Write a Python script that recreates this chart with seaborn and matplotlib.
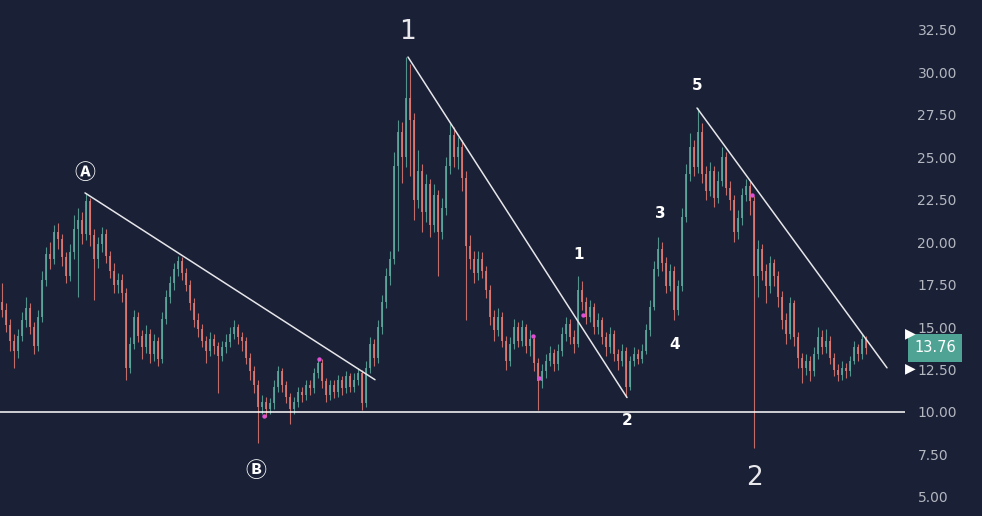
import numpy as np
import pandas as pd
import seaborn as sns
import matplotlib.pyplot as plt

# velas (una por cada ~4 px del gráfico original)
closes = [
    16.0, 15.1, 14.2, 13.6, 14.5, 15.4, 16.1, 15.0, 13.9, 15.6,
    17.8, 19.3, 19.0, 20.6, 20.2, 19.1, 18.0, 19.4, 20.8, 21.3,
    20.5, 22.4, 20.4, 19.0, 19.9, 20.5, 19.2, 18.3, 17.5, 17.8,
    17.0, 12.6, 14.0, 15.6, 14.5, 13.8, 14.6, 13.4, 14.2, 13.1,
    15.5, 16.8, 17.6, 18.4, 18.9, 18.2, 17.5, 16.4, 15.4, 14.9,
    14.2, 13.6, 14.3, 13.9, 13.3, 13.8, 14.1, 14.6, 15.0, 14.4,
    14.2, 13.2, 12.4, 11.6, 10.3, 10.6, 10.2, 10.5, 11.5, 12.4,
    11.6, 10.9, 10.2, 10.6, 11.2, 11.0, 11.6, 11.4, 12.3, 12.9,
    11.8, 11.0, 11.6, 11.2, 11.9, 11.4, 12.1, 11.5, 11.9, 12.3,
    10.5, 12.6, 14.0, 13.2, 15.0, 16.5, 18.0, 19.0, 24.5, 26.5,
    25.0, 28.5, 27.2, 22.5, 24.2, 21.8, 23.4, 21.0, 22.8, 20.6,
    22.0, 24.5, 26.3, 25.0, 25.6, 23.8, 19.8, 19.0, 18.2, 19.0,
    18.3, 17.2, 15.6, 14.8, 15.6, 14.2, 13.0, 14.0, 15.0, 14.2,
    15.0, 13.9, 14.3, 12.9, 11.8, 12.4, 13.0, 13.5, 12.8, 13.6,
    14.6, 15.2, 14.4, 14.0, 17.2, 16.5, 15.6, 16.2, 15.0, 15.4,
    14.4, 13.8, 14.6, 13.4, 13.0, 13.6, 11.5, 13.0, 13.4, 13.1,
    13.6, 14.8, 16.2, 18.4, 19.6, 18.8, 17.4, 18.3, 16.0, 17.4,
    21.5, 24.0, 25.6, 24.4, 26.5, 24.0, 23.0, 24.2, 22.6, 23.6,
    25.0, 23.2, 22.5, 20.6, 21.4, 22.8, 23.3, 22.4, 18.0, 19.6,
    18.3, 17.4, 18.8, 18.0, 16.8, 15.4, 14.6, 16.4, 14.4, 13.2,
    12.6, 13.0, 12.4, 13.4, 14.4, 13.8, 14.2, 13.2, 12.5, 12.2,
    12.6, 12.4, 13.0, 13.8, 13.4, 14.3, 13.76,
]
highs = [
    17.6, 16.4, 15.5, 14.6, 14.9, 15.9, 16.8, 16.4, 15.3, 16.0,
    18.3, 19.7, 20.0, 21.0, 21.1, 20.5, 19.4, 19.9, 21.6, 22.0,
    21.8, 22.9, 22.6, 20.8, 20.3, 20.9, 20.8, 19.5, 18.8, 18.2,
    18.1, 17.3, 14.4, 16.0, 15.9, 14.8, 15.1, 14.9, 14.6, 14.4,
    15.9, 17.2, 18.0, 18.8, 19.2, 19.1, 18.5, 17.8, 16.7, 15.8,
    15.2, 14.5, 14.7, 14.6, 14.1, 14.2, 14.6, 15.0, 15.4, 15.2,
    14.7, 14.4, 13.5, 12.7, 11.9, 11.0, 10.9, 10.8, 11.9, 12.7,
    12.6, 11.8, 11.1, 10.9, 11.5, 11.5, 11.9, 11.9, 12.6, 13.2,
    13.1, 12.0, 11.9, 11.9, 12.2, 12.1, 12.4, 12.3, 12.3, 12.6,
    12.5, 13.0, 14.4, 14.3, 15.4, 16.9, 18.5, 19.5, 25.3, 27.2,
    27.1, 30.9, 30.5, 27.6, 25.4, 24.6, 24.0, 23.7, 23.4, 23.1,
    22.6, 25.0, 27.1, 26.8, 26.2, 26.0, 24.2, 20.4, 19.5, 19.5,
    19.4, 18.6, 17.5, 16.0, 16.1, 15.9, 14.5, 14.4, 15.5, 15.3,
    15.4, 15.2, 14.8, 14.5, 13.2, 12.8, 13.4, 13.9, 13.7, 14.0,
    15.0, 15.6, 15.5, 14.8, 18.0, 17.7, 16.8, 16.6, 16.4, 15.8,
    15.6, 14.7, 15.0, 14.8, 13.7, 14.0, 13.8, 13.3, 13.8, 13.7,
    14.0, 15.2, 16.6, 18.9, 20.3, 20.0, 19.1, 18.7, 18.6, 17.8,
    22.0, 24.6, 26.4, 26.0, 27.9, 27.0, 24.5, 24.7, 24.5, 24.2,
    25.6, 25.3, 23.6, 22.8, 21.9, 23.2, 23.7, 23.6, 22.7, 20.1,
    19.9, 18.7, 19.2, 19.0, 18.3, 17.1, 15.8, 16.8, 16.6, 14.7,
    13.5, 13.4, 13.3, 13.8, 15.0, 14.8, 14.9, 14.5, 13.5, 12.8,
    13.0, 12.9, 13.3, 14.2, 14.0, 14.6, 14.5,
]
lows = [
    15.6, 14.7, 13.6, 12.6, 13.2, 14.2, 15.0, 14.6, 13.4, 13.6,
    15.3, 17.4, 18.4, 18.7, 19.6, 18.6, 17.6, 17.7, 19.0, 16.8,
    19.9, 20.1, 19.8, 16.6, 18.5, 19.4, 18.8, 17.9, 17.0, 17.0,
    16.5, 11.9, 12.3, 13.7, 14.1, 13.1, 13.5, 12.9, 13.0, 12.7,
    12.9, 15.2, 16.4, 17.2, 18.0, 17.8, 17.1, 16.0, 15.0, 14.4,
    13.8, 12.9, 13.3, 13.4, 11.1, 13.0, 13.5, 13.8, 14.3, 14.0,
    13.6, 12.8, 11.9, 11.1, 8.2, 9.9, 9.7, 9.9, 10.2, 11.2,
    11.2, 10.5, 9.3, 9.9, 10.3, 10.6, 10.7, 11.0, 11.1, 12.0,
    11.4, 10.6, 10.7, 10.8, 10.9, 11.0, 11.1, 11.2, 11.2, 11.6,
    10.1, 10.3, 12.3, 12.7, 12.9, 14.6, 16.1, 17.5, 18.7, 19.5,
    23.5, 24.4, 23.9, 21.3, 22.0, 20.6, 21.2, 20.3, 20.6, 18.0,
    20.2, 21.6, 24.0, 24.4, 24.3, 23.0, 15.4, 18.4, 17.6, 17.8,
    17.9, 16.7, 15.1, 14.2, 14.5, 13.8, 12.5, 12.7, 13.7, 13.8,
    13.9, 13.5, 13.3, 12.4, 10.1, 11.4, 12.0, 12.7, 12.4, 12.5,
    13.3, 14.2, 14.0, 13.5, 13.8, 16.0, 15.2, 15.3, 14.6, 14.6,
    14.0, 13.3, 13.5, 13.0, 12.5, 12.7, 10.9, 11.3, 12.7, 12.8,
    12.9, 13.4, 14.5, 16.0, 18.0, 18.3, 17.0, 17.1, 15.4, 15.7,
    17.1, 21.2, 23.6, 23.9, 24.1, 23.5, 22.5, 22.7, 22.1, 22.3,
    23.3, 22.8, 21.9, 20.0, 20.2, 21.0, 22.4, 21.6, 7.9, 16.8,
    17.8, 16.4, 17.0, 17.4, 16.2, 14.9, 14.0, 14.3, 13.9, 12.6,
    11.7, 12.2, 11.8, 12.1, 13.1, 13.4, 13.5, 12.8, 12.1, 11.8,
    11.9, 12.0, 12.1, 12.8, 13.0, 13.1, 13.4,
]
first_open = 16.5
last_price = "13.76"

# lineas de tendencia (indice de vela, precio)
trend_a_x, trend_a_y = [20.75, 93.25], [22.9, 11.9]
trend_1_x, trend_1_y = [101.5, 156.25], [30.9, 10.85]
trend_5_x, trend_5_y = [173.75, 221.25], [27.9, 12.6]
support = 10.0

# puntos magenta
dots_x = [65.5, 79.25, 132.75, 134.25, 145.25, 187.5]
dots_y = [9.76, 13.1, 14.5, 12.0, 15.7, 22.8]

# etiquetas de ondas
big_labels = [("1", 101.25, 32.4), ("2", 188.0, 6.1)]
small_labels = [("1", 144.25, 19.3), ("2", 156.25, 9.47), ("3", 164.5, 21.66),
                ("4", 168.25, 13.95), ("5", 173.75, 29.2)]
circle_labels = [("Ⓐ", 20.75, 24.1), ("Ⓑ", 63.5, 6.55)]

df = pd.DataFrame({"close": closes, "high": highs, "low": lows})
df["open"] = df["close"].shift(1).fillna(first_open)
df["idx"] = np.arange(len(df))
df["up"] = df["close"] >= df["open"]

BG = "#1a2036"
UP = "#5fa79c"
DOWN = "#df7a72"

sns.set_style("dark", {"axes.facecolor": BG, "figure.facecolor": BG})
fig = plt.figure(figsize=(9.82, 5.16), dpi=100)
ax = fig.add_axes([0, 0, 905 / 982, 1])

colors = np.where(df["up"], UP, DOWN)
ax.vlines(df["idx"], df["low"], df["high"], colors=colors, linewidth=0.8, alpha=0.85)
body_lo = df[["open", "close"]].min(axis=1)
body_h = (df["close"] - df["open"]).abs().clip(lower=0.08)
ax.bar(df["idx"], body_h, bottom=body_lo, width=0.6, color=colors, alpha=0.85, linewidth=0)

ax.axhline(support, color="white", linewidth=1.1)
for tx, ty in [(trend_a_x, trend_a_y), (trend_1_x, trend_1_y), (trend_5_x, trend_5_y)]:
    sns.lineplot(x=tx, y=ty, ax=ax, color="#e6e6ea", linewidth=1.1)
sns.scatterplot(x=dots_x, y=dots_y, ax=ax, color="#e04fd6", s=10, linewidth=0, zorder=5)

for t, x, y in big_labels:
    ax.text(x, y, t, color="#e8e8ec", fontsize=19, ha="center", va="center")
for t, x, y in small_labels:
    ax.text(x, y, t, color="white", fontsize=11, fontweight="bold", ha="center", va="center")
for t, x, y in circle_labels:
    ax.text(x, y, t, color="white", fontsize=15, fontweight="bold", ha="center", va="center",
            family=["Noto Sans CJK SC", "DejaVu Sans"])

ax.set_xlim(-0.5, 225.75)
ax.set_ylim(3.875, 34.26)
ax.set_xticks([])
ax.set_yticks(np.arange(5, 33, 2.5))
ax.yaxis.tick_right()
ax.set_yticklabels([f"{v:.2f}" for v in np.arange(5, 33, 2.5)])
ax.tick_params(axis="y", length=0, pad=9, labelsize=10, labelcolor="#b4b7c0")
for s in ax.spines.values():
    s.set_visible(False)
ax.grid(False)

# etiqueta del último precio
fig.text(935 / 982, 1 - 348 / 516, last_price, color="white", fontsize=10.5,
         ha="center", va="center",
         bbox=dict(boxstyle="square,pad=0.45", facecolor="#4fa394", edgecolor="none"))
for yy in [333, 368]:
    fig.text(905 / 982, 1 - yy / 516, "▶", color="white", fontsize=10, ha="left", va="center")

fig.savefig("out.png", dpi=100, facecolor=BG)
